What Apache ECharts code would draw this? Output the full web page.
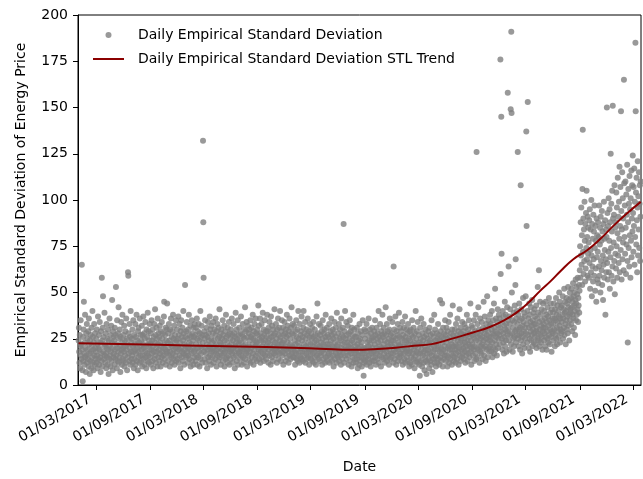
<!DOCTYPE html>
<html><head><meta charset="utf-8">
<script src="https://cdn.jsdelivr.net/npm/echarts@6/dist/echarts.min.js"></script>
<style>html,body{margin:0;padding:0;background:#fff}#c{width:643px;height:479px}</style>
</head><body><div id="c"></div>
<script>
// Daily empirical standard deviation, one value per day, each array starting on 1 January
const sd2017 = [
24,31,18,12,27,9,21,35,16,22,14,65,19,8,2,26,13,30,45,17,11,23,38,15,20,7,28,16,33,12,25,
19,14,29,10,36,22,17,6,24,13,27,18,9,31,21,15,40,12,26,19,8,23,33,16,11,28,20,14,
18,25,12,30,16,9,22,37,14,20,27,11,19,34,15,23,7,29,17,13,58,24,10,31,48,18,26,14,21,39,16,
22,12,28,17,9,33,20,15,25,11,30,19,6,24,14,36,21,16,27,10,18,32,13,23,46,20,8,29,15,26,
17,24,11,31,19,14,27,53,16,22,9,35,20,13,28,18,42,12,25,15,30,21,7,26,17,34,19,11,23,38,14,
20,27,13,18,32,10,24,16,29,21,12,36,19,25,8,22,15,61,59,28,17,13,33,20,26,11,40,18,23,14,
25,16,30,12,21,35,18,9,27,14,22,19,33,11,26,17,38,13,24,20,8,29,15,31,18,23,12,36,21,16,27,
13,24,19,32,10,27,16,22,37,14,20,28,11,25,18,34,15,21,9,30,17,26,13,39,22,16,29,12,24,19,33,
15,22,28,11,19,35,17,24,13,30,21,9,26,18,33,14,23,41,16,27,12,20,31,18,25,10,36,22,15,28,
19,26,13,32,17,23,10,29,21,15,34,18,25,12,28,20,16,37,45,22,14,27,19,31,11,24,17,30,44,18,23,
13,28,20,33,16,24,10,30,18,22,36,15,26,12,21,29,17,38,14,25,19,32,11,23,27,16,20,35,13,24,
18,30,14,25,21,37,12,27,19,33,16,23,9,29,20,35,15,26,18,31,13,24,40,17,28,11,22,19,54,26,16];
const sd2018 = [
21,29,15,34,18,25,12,30,20,16,38,23,14,27,19,32,10,26,22,17,35,13,28,20,24,11,31,18,26,15,33,
19,27,13,31,22,16,36,11,25,20,29,15,33,18,24,10,28,21,40,14,26,17,32,20,12,27,23,132,
88,58,18,29,14,25,35,20,12,27,17,31,22,9,26,19,34,15,24,28,13,21,37,16,30,19,11,25,32,18,23,
15,28,20,34,12,24,18,30,21,14,27,36,17,22,10,29,19,33,16,25,13,31,20,26,41,15,23,18,28,11,
22,30,16,25,19,35,13,27,21,17,32,10,24,18,29,14,38,20,26,15,23,12,31,19,27,16,34,21,11,28,18,
25,14,30,19,22,36,17,27,12,24,20,33,15,28,18,9,26,21,39,16,23,30,13,25,19,35,11,27,22,17,
31,18,24,14,28,20,37,16,23,11,27,19,33,15,26,21,12,30,18,25,42,14,22,29,17,34,20,10,26,19,32,
16,28,21,13,30,24,18,35,12,26,20,31,15,27,22,38,17,25,11,29,19,33,14,24,21,36,16,28,23,13,30,
22,27,17,43,19,32,14,25,20,36,12,28,18,24,33,15,26,21,39,17,23,30,13,27,19,35,16,24,20,29,
14,26,21,38,17,29,23,12,31,19,25,34,16,22,28,11,37,20,26,15,32,18,24,13,30,21,27,17,41,19,23,
28,16,33,20,25,12,30,22,18,36,14,27,21,31,17,24,40,19,26,13,29,22,35,16,23,18,31,11,27,20,
24,34,17,28,21,13,30,19,26,38,15,23,32,18,27,12,29,20,36,16,25,22,14,31,19,42,17,28,21,33,15];
const sd2019 = [
20,27,15,32,18,24,11,29,22,17,35,14,26,19,30,13,23,40,16,25,21,12,33,18,27,15,29,20,37,14,24,
18,26,13,31,40,22,16,28,19,34,12,25,21,17,30,14,27,20,36,15,23,18,29,11,26,19,33,16,
22,14,28,19,25,31,13,21,17,34,26,12,23,18,30,15,27,20,11,24,37,16,22,44,19,28,14,25,33,17,21,
13,27,20,32,16,23,18,29,11,25,35,19,22,14,28,17,30,21,12,26,38,15,24,19,31,13,22,27,16,20,
26,17,33,12,22,19,29,15,24,36,18,27,13,21,30,16,25,10,28,20,34,14,23,19,31,17,26,12,39,21,16,
22,15,28,19,33,13,25,18,30,16,24,11,36,20,27,14,22,31,17,26,87,19,12,29,23,40,16,25,20,34,
14,27,19,23,32,16,21,11,28,18,25,35,13,22,29,17,20,10,31,24,15,27,19,38,12,23,30,17,26,14,21,
19,12,26,17,31,14,22,9,28,20,16,24,11,33,18,25,13,21,29,15,23,10,27,17,35,19,14,5,20,12,30,
17,25,13,29,20,15,33,11,23,18,27,14,21,36,16,24,12,30,19,22,10,28,17,25,13,31,20,15,26,18,
24,13,29,18,22,35,15,27,11,20,31,17,25,14,28,19,23,40,12,26,16,21,33,18,24,10,29,20,15,27,38,
19,26,14,31,22,17,28,12,24,20,42,15,27,18,33,13,23,29,16,21,25,11,30,19,36,14,22,27,17,24,
15,28,21,34,17,24,12,64,26,19,30,14,22,37,18,25,11,29,20,16,27,33,13,23,19,39,15,26,21,31,17];
const sd2020 = [
22,16,29,13,25,19,34,11,27,21,17,31,14,24,20,37,12,26,18,23,30,15,28,19,13,33,22,17,25,10,29,
18,24,12,30,20,15,27,11,35,22,17,26,14,31,19,23,9,28,21,16,40,13,25,18,29,12,22,34,17,
20,14,27,11,23,5,31,17,25,13,36,19,22,10,28,16,24,12,33,18,26,8,21,15,30,19,13,27,6,23,17,
12,25,19,29,14,22,9,31,17,24,13,27,20,11,35,16,23,7,28,18,14,26,21,38,12,19,30,15,24,10,
22,16,28,12,25,19,33,14,21,27,11,24,18,46,15,29,20,13,26,17,44,23,10,31,19,25,14,28,21,16,35,
18,27,13,23,31,16,25,10,29,20,15,34,21,12,26,19,38,14,24,28,17,22,11,30,19,43,16,27,21,13,
25,15,30,19,22,12,33,17,27,21,14,36,24,18,29,11,26,20,41,16,23,31,13,28,19,25,15,34,22,17,27,
20,29,14,25,33,18,23,12,31,21,16,27,38,19,24,13,30,22,17,35,26,15,28,21,44,18,24,11,32,20,27,
22,31,16,27,19,35,13,25,21,29,17,38,24,14,126,28,20,33,15,26,42,19,30,23,12,27,36,18,25,21,
29,17,34,22,26,14,31,20,45,24,16,28,37,21,30,13,25,33,19,27,48,23,15,29,35,20,26,18,32,24,38,
21,33,26,18,30,40,23,15,28,35,20,27,44,17,31,24,52,19,29,36,22,26,16,34,28,41,20,32,25,38,
27,36,22,31,176,60,29,145,71,25,34,19,40,28,23,37,17,32,26,45,21,30,38,24,33,18,29,42,27,158,35];
const sd2021 = [
30,64,24,37,19,33,27,41,149,22,191,147,50,28,35,18,31,25,39,21,34,26,43,29,54,68,23,36,30,40,27,
33,126,25,38,21,30,44,27,35,19,31,108,24,41,28,36,17,32,26,47,22,34,29,39,20,37,25,31,
48,28,137,86,33,23,40,153,27,36,20,31,44,25,38,18,34,29,42,24,32,27,46,21,35,30,39,23,33,28,41,
26,37,22,33,29,43,20,31,36,25,53,28,39,24,62,34,21,30,45,27,38,23,32,41,26,35,19,29,44,31,
33,24,40,28,36,21,31,45,26,38,19,34,29,42,25,37,23,32,47,27,35,22,39,30,44,26,33,18,41,29,36,
28,39,33,24,44,30,36,21,41,27,35,47,25,38,31,22,43,34,29,40,26,37,50,32,45,23,36,30,42,28,
34,43,29,38,48,25,36,41,31,52,27,39,45,33,22,40,35,47,30,44,37,28,53,42,32,46,24,38,50,35,41,
39,47,33,52,42,29,45,38,55,36,48,31,43,50,40,27,46,57,35,44,53,38,49,41,58,34,47,43,54,39,51,
62,75,58,88,70,96,65,81,54,106,138,72,90,60,84,67,99,78,56,87,63,93,74,105,68,80,59,91,71,85,
77,58,89,66,95,52,73,84,61,100,70,48,87,64,79,56,92,68,83,59,97,74,51,86,63,78,45,90,69,81,57,
72,88,55,80,64,97,59,76,85,50,91,67,78,62,94,54,83,70,46,87,65,99,58,79,73,89,38,68,84,61,
80,150,66,93,57,86,72,101,61,78,95,52,88,69,125,74,98,59,83,105,64,151,90,56,77,92,67,108,49,85,71];
const sd2022 = [
88,63,104,75,96,58,82,112,70,91,66,99,79,118,61,86,107,73,148,94,57,84,115,68,101,77,90,62,165,109,80,
97,71,110,85,60,103,76,92,119,67,23,88,106,74,98,64,113,81,95,58,101,78,116,69,90,108,83,124,
93,72,107,86,117,65,99,80,185,148,104,76,112,89,61,96,121,70,102,84,115,74,98,108,67,91,110];
const sdYears = [2017, 2018, 2019, 2020, 2021, 2022];
const sdValues = [sd2017, sd2018, sd2019, sd2020, sd2021, sd2022];

// STL trend, read at points along the curve
const trendDates = ['2017-01-01','2017-07-01','2018-01-01','2018-07-01','2019-01-01','2019-04-01','2019-07-20','2019-10-01','2019-12-15','2020-02-15','2020-04-15','2020-06-01','2020-07-15','2020-09-05','2020-11-01','2020-12-29','2021-02-01','2021-03-07','2021-04-20','2021-05-24','2021-06-27','2021-08-10','2021-09-27','2021-11-10','2021-12-24','2022-02-10','2022-03-27'];
const trendValues = [22.6,22.0,21.4,20.8,20.1,19.6,19.0,19.3,20.2,21.2,22.1,24.0,26.0,28.5,31.5,36.0,39.5,44.0,51.0,56.0,61.5,68.0,73.0,79.0,86.0,93.0,99.0];

// x tick labels (dd/mm/yyyy)
const xTickLabels = ['01/03/2017','01/09/2017','01/03/2018','01/09/2018','01/03/2019','01/09/2019','01/03/2020','01/09/2020','01/03/2021','01/09/2021','01/03/2022'];
const xMin = '2016-12-30', xMax = '2022-03-28';

const DAY = 86400000;
const parseISO = s => { const p = s.split('-').map(Number); return Date.UTC(p[0], p[1]-1, p[2]); };
const parseDMY = s => { const p = s.split('/').map(Number); return Date.UTC(p[2], p[1]-1, p[0]); };
const scatterData = [];
sdValues.forEach((arr, k) => {
  const start = Date.UTC(sdYears[k], 0, 1);
  arr.forEach((v, i) => scatterData.push([start + i * DAY, v]));
});
const trendData = trendDates.map((d, i) => [parseISO(d), trendValues[i]]);
const tickValues = xTickLabels.map(parseDMY);
const labelOf = {}; tickValues.forEach((t, i) => labelOf[t] = xTickLabels[i]);

const FONT = 'DejaVu Sans';
const chart = echarts.init(document.getElementById('c'), null, {renderer: 'canvas'});
chart.setOption({
  animation: false,
  backgroundColor: '#fff',
  grid: {left: 78, right: 2, top: 15, bottom: 93, show: true, borderColor: '#000', borderWidth: 1, backgroundColor: 'transparent'},
  xAxis: {
    type: 'value', min: parseISO(xMin), max: parseISO(xMax),
    name: 'Date', nameLocation: 'middle', nameGap: 75,
    nameTextStyle: {fontFamily: FONT, fontSize: 14, color: '#000'},
    axisLine: {show: true, lineStyle: {color: '#000', width: 1}},
    axisTick: {show: true, length: 5, lineStyle: {color: '#000'}, customValues: tickValues},
    axisLabel: {rotate: 30, margin: 10, padding: [0, 7, 0, 0], fontFamily: FONT, fontSize: 14, color: '#000', customValues: tickValues,
      formatter: v => labelOf[v] || ''},
    splitLine: {show: false}
  },
  yAxis: {
    type: 'value', min: 0, max: 200, interval: 25,
    name: 'Empirical Standard Deviation of Energy Price', nameLocation: 'middle', nameGap: 50,
    nameTextStyle: {fontFamily: FONT, fontSize: 14, color: '#000'},
    axisLine: {show: true, lineStyle: {color: '#000', width: 1}},
    axisTick: {show: true, length: 5, lineStyle: {color: '#000'}},
    axisLabel: {margin: 10, fontFamily: FONT, fontSize: 14, color: '#000'},
    splitLine: {show: false}
  },
  legend: {
    left: 92, top: 27, padding: 0, orient: 'vertical', itemWidth: 31, itemHeight: 6, itemGap: 8,
    textStyle: {fontFamily: FONT, fontSize: 14, color: '#000', lineHeight: 16, padding: [0, 0, 0, 9]},
    data: [{name: 'Daily Empirical Standard Deviation', icon: 'circle'},
           {name: 'Daily Empirical Standard Deviation STL Trend', itemStyle: {opacity: 0}, lineStyle: {color: '#8b0000', width: 2, opacity: 1}}]
  },
  series: [
    {name: 'Daily Empirical Standard Deviation', type: 'scatter', data: scatterData, symbolSize: 6,
     itemStyle: {color: '#808080'}, z: 2},
    {name: 'Daily Empirical Standard Deviation STL Trend', type: 'line', data: trendData, symbol: 'none', showSymbol: false,
     smooth: 0.5, lineStyle: {color: '#8b0000', width: 2}, itemStyle: {color: '#8b0000'}, z: 3}
  ]
});
</script></body></html>
